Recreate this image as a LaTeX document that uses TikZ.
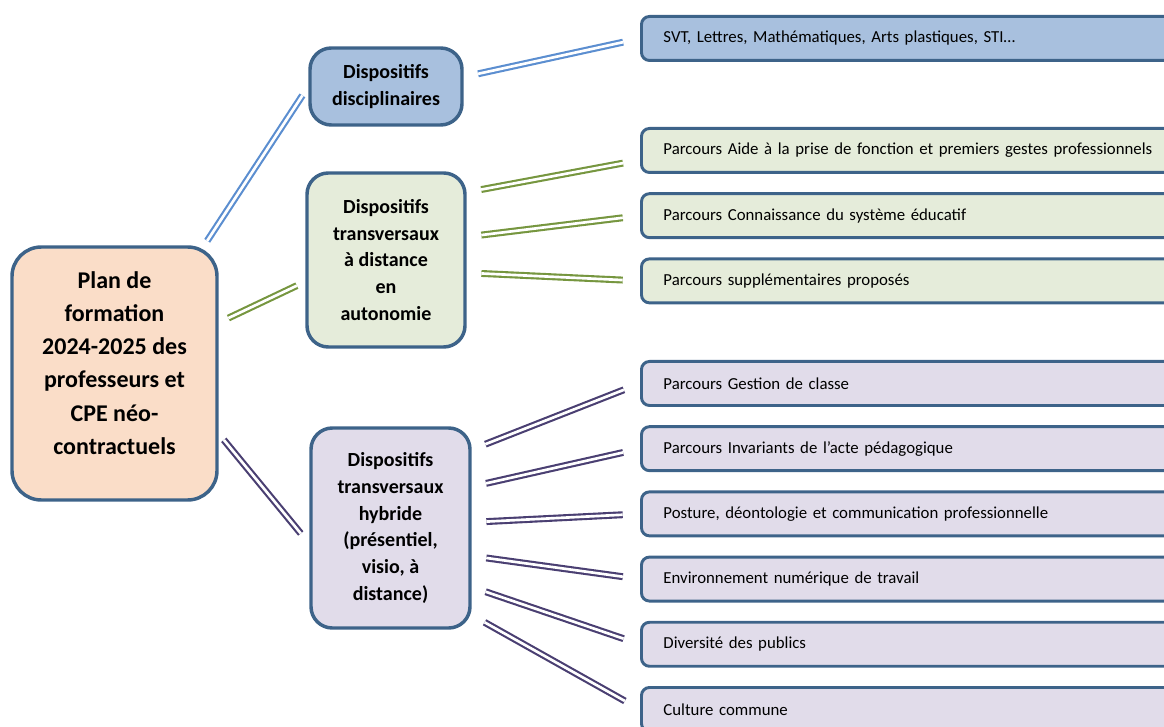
\documentclass[tikz,border=0pt]{standalone}
\usepackage{fontspec}
\setmainfont{Carlito}
\usepackage{xcolor}
\usetikzlibrary{chains}

\definecolor{boxline}{HTML}{3D6389}
\definecolor{rootfill}{HTML}{FADDC8}
\definecolor{discfill}{HTML}{A8C0DE}
\definecolor{transfill}{HTML}{E5ECDA}
\definecolor{hybfill}{HTML}{E1DCEA}
\definecolor{linkblue}{HTML}{5B8ED0}
\definecolor{linkgreen}{HTML}{76963F}
\definecolor{linkpurple}{HTML}{4A3F72}

\begin{document}
\begin{tikzpicture}[x=0.75pt,y=-0.75pt]

    % picture is laid out in pixels, y going down
    \tikzstyle{box}=[draw=boxline,line width=2.6pt,rounded corners=16pt,align=center,text=black]
    \tikzstyle{rootbox}=[box,fill=rootfill,minimum width=153.75pt,minimum height=189.75pt,rounded corners=22pt,font=\fontsize{18}{24.9}\selectfont\bfseries]
    \tikzstyle{hub}=[box,font=\fontsize{15}{20.2}\selectfont\bfseries]
    \tikzstyle{leaf}=[draw=boxline,line width=2.2pt,rounded corners=6pt,minimum height=33pt,text width=372pt,inner xsep=16.5pt,align=left,text=black,font=\fontsize{12.6}{15}\selectfont]
    \tikzstyle{link}=[double distance=2pt,line width=1.6pt,shorten <=11pt,shorten >=13pt]

    \useasboundingbox (0,0) rectangle (1164,727);
    \clip (0,0) rectangle (1164,727);

    \node [rootbox] (root) at (114.5,373.5) {Plan de\\formation\\2024-2025 des\\professeurs et\\CPE néo-\\contractuels\\[-9pt]};

    \node [hub,fill=discfill,minimum width=114pt,minimum height=57.75pt] (disc) at (386,86.5) {Dispositifs\\disciplinaires};
    \node [hub,fill=transfill,minimum width=118.5pt,minimum height=130.5pt] (trans) at (386,260) {Dispositifs\\transversaux\\à distance\\en\\autonomie};
    \node [hub,fill=hybfill,minimum width=119.25pt,minimum height=150pt] (hyb) at (390.5,528) {Dispositifs\\transversaux\\hybride\\(présentiel,\\visio, à\\distance)};

    \begin{scope}[start chain=1 going below,node distance=13.7pt]
        \node [on chain=1,leaf,fill=discfill,anchor=north west] (svt) at (640,15) {SVT, Lettres, Mathématiques, Arts plastiques, STI…};
    \end{scope}

    \begin{scope}[start chain=2 going below,node distance=13.7pt]
        \node [on chain=2,leaf,fill=transfill,anchor=north west] (aide) at (640,127) {Parcours Aide à la prise de fonction et premiers gestes professionnels};
        \node [on chain=2,leaf,fill=transfill] (conn) {Parcours Connaissance du système éducatif};
        \node [on chain=2,leaf,fill=transfill] (supp) {Parcours supplémentaires proposés};
    \end{scope}

    \begin{scope}[start chain=3 going below,node distance=13.7pt]
        \node [on chain=3,leaf,fill=hybfill,anchor=north west] (gest) at (640,360) {Parcours Gestion de classe};
        \node [on chain=3,leaf,fill=hybfill] (inv) {Parcours Invariants de l’acte pédagogique};
        \node [on chain=3,leaf,fill=hybfill] (post) {Posture, déontologie et communication professionnelle};
        \node [on chain=3,leaf,fill=hybfill] (env) {Environnement numérique de travail};
        \node [on chain=3,leaf,fill=hybfill] (div) {Diversité des publics};
        \node [on chain=3,leaf,fill=hybfill] (cult) {Culture commune};
    \end{scope}

    \draw[link,draw=linkblue,shorten <=4pt,shorten >=8pt] (root.55) -- (disc.180);
    \draw[link,draw=linkgreen,shorten <=8pt,shorten >=7pt] (root.26) -- (trans.195);
    \draw[link,draw=linkpurple,shorten <=6pt,shorten >=10pt] (root.-30) -- (hyb.191);

    \draw[link,draw=linkblue] (disc.7) -- (svt.west);

    \draw[link,draw=linkgreen] (trans.40) -- (aide.-178);
    \draw[link,draw=linkgreen] (trans.16) -- (conn.west);
    \draw[link,draw=linkgreen] (trans.-9) -- (supp.west);

    \draw[link,draw=linkpurple] (hyb.44) -- (gest.west);
    \draw[link,draw=linkpurple] (hyb.27) -- (inv.west);
    \draw[link,draw=linkpurple] (hyb.4) -- (post.west);
    \draw[link,draw=linkpurple] (hyb.-19) -- (env.west);
    \draw[link,draw=linkpurple] (hyb.-36) -- (div.west);
    \draw[link,draw=linkpurple] (hyb.-47) -- (cult.west);

\end{tikzpicture}
\end{document}
